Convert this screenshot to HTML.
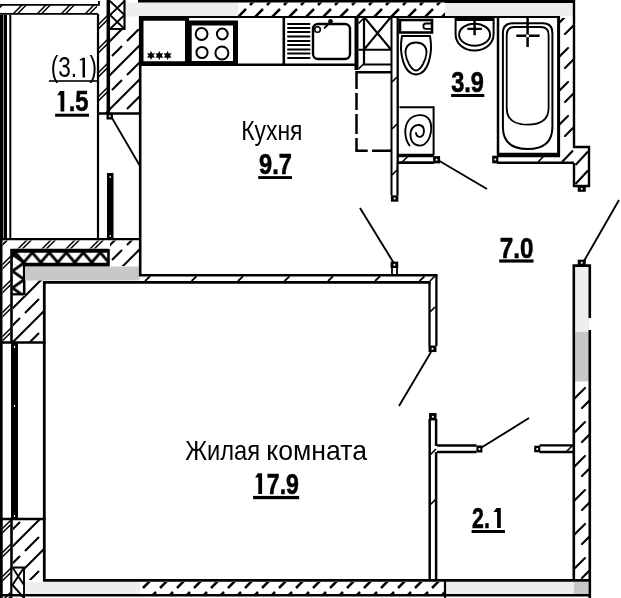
<!DOCTYPE html>
<html><head><meta charset="utf-8">
<style>
html,body{margin:0;padding:0;background:#fff;width:621px;height:598px;overflow:hidden}
svg{display:block}
text{font-family:"Liberation Sans",sans-serif;fill:#000}
</style></head>
<body>
<svg width="621" height="598" viewBox="0 0 621 598">
<defs>
<!-- dashed 45deg hatch for thin top/bottom bands -->
<pattern id="h1" patternUnits="userSpaceOnUse" width="17" height="51" x="0" y="0">
<path d="M-1,18 L8,9 M12,5 L18,-1 M-1,35 L3,31 M7,27 L18,16 M-1,52 L12,39 M16,35 L18,33" stroke="#000" stroke-width="2.5"/>
</pattern>
<!-- long dashed hatch for thick walls -->
<pattern id="h2" patternUnits="userSpaceOnUse" width="34" height="34" x="15" y="0">
<path d="M-2,36 L36,-2 M-2,2 L2,-2 M32,36 L36,32 M-1,18 L5,12 M10,7 L18,-1 M16,35 L24,27 M29,22 L35,16" stroke="#000" stroke-width="2.1"/>
</pattern>
<!-- right wall hatch -->
<pattern id="h3" patternUnits="userSpaceOnUse" width="17" height="34" x="575" y="381">
<path d="M-1,18 L10,7 M7,27 L18,16" stroke="#000" stroke-width="2.1" stroke-linecap="round"/>
</pattern>
<!-- double line hatch -->
<pattern id="hd" patternUnits="userSpaceOnUse" width="24" height="24" x="3" y="0">
<path d="M-2,26 L26,-2 M2.3,26 L26,2.3 M-2,2 L2,-2 M-2,6.3 L6.3,-2 M22,26 L26,22" stroke="#000" stroke-width="1.5"/>
</pattern>
<!-- sparse hatch for thin partition walls -->
<pattern id="hs" patternUnits="userSpaceOnUse" width="40" height="40">
<path d="M-4,44 L44,-4" stroke="#000" stroke-width="1.8"/>
</pattern>
<!-- zigzag insulation -->
<pattern id="zz" patternUnits="userSpaceOnUse" width="17" height="14" x="15.3" y="250.7">
<path d="M-1.53,0 L10.37,14 M18.53,0 L6.63,14" stroke="#000" stroke-width="2.8" fill="none"/>
</pattern>
<pattern id="zv" patternUnits="userSpaceOnUse" width="12" height="16.8" x="12.4" y="254.3">
<path d="M0,0 L12,8.4 L0,16.8" stroke="#000" stroke-width="2.8" fill="none"/>
</pattern>
</defs>
<g fill="none" stroke="#000">
<!-- ===== TOP WALLS ===== -->
<rect x="0" y="5" width="97" height="8.5" fill="url(#hd)" stroke="none"/>
<path d="M0,4.8 H99 V1" stroke-width="1.8"/>
<path d="M0,13.9 H98" stroke-width="1.8"/>
<rect x="126" y="2.5" width="112" height="14" fill="#eeeeee" stroke="none"/>
<rect x="445" y="3" width="130" height="13.5" fill="#eeeeee" stroke="none"/>
<rect x="238" y="2.5" width="207" height="14" fill="url(#h1)" stroke="none"/>
<path d="M138,1.3 H445" stroke-width="2.6"/>
<path d="M445,1.5 H575" stroke-width="3"/>
<path d="M139,17 H560" stroke-width="2.2"/>
<!-- X box top between balcony and kitchen -->
<rect x="99" y="15" width="8" height="98" fill="url(#hd)" stroke="none"/>
<path d="M108.3,0 V113" stroke-width="3.5"/>
<path d="M124.5,0 V29 H110" stroke-width="2.2"/>
<path d="M110,1 L124.5,15 L110,29 M124.5,1 L110,15 L124.5,29" stroke-width="1.8"/>
<!-- ===== BALCONY ===== -->
<path d="M3.5,15 V239" stroke-width="7"/>
<path d="M3.5,15 V239" stroke="#bbb" stroke-width="0.8"/>
<path d="M10.3,15 V239" stroke-width="2"/>
<path d="M98,14 V239" stroke-width="2.2"/>
<!-- thick wall -->
<rect x="110" y="29" width="29" height="84" fill="url(#h2)" stroke="none"/>
<path d="M97,113.5 H140" stroke-width="2.5"/>
<rect x="106.50" y="113.00" width="6.50" height="6.50" fill="#000" stroke="none"/><rect x="108.85" y="115.35" width="1.8" height="1.8" fill="#fff" stroke="none"/>
<path d="M112,118 L140,166" stroke-width="1.8"/>
<rect x="107" y="173" width="6.5" height="65" fill="#000" stroke="none"/>
<path d="M110.2,176 V178 M110.2,235 V237" stroke="#fff" stroke-width="1.2"/>
<!-- balcony bottom -->
<path d="M0,239.1 H140" stroke-width="2.3"/>
<rect x="3" y="240.5" width="105" height="8" fill="url(#hd)" stroke="none"/>
<rect x="110" y="240.5" width="29" height="25.5" fill="url(#h2)" stroke="none"/>
<rect x="12" y="250.7" width="96" height="14" fill="url(#zz)" stroke="none"/>
<rect x="12.4" y="252" width="11.8" height="42" fill="url(#zv)" stroke="none"/>
<path d="M11,250.7 H108.5 M24.2,264.7 H108.5" stroke-width="4"/>
<path d="M108.5,249 V266.5 M24.2,264 V295" stroke-width="2.6"/>
<path d="M11,294.3 H25" stroke-width="2.3"/>
<rect x="25" y="266.5" width="114.5" height="14" fill="#c8c8c8" stroke="none"/>
<!-- ===== LEFT WALL ===== -->
<path d="M1.2,239 V598" stroke-width="2.6"/>
<path d="M11.5,249 V598" stroke-width="2.6"/>
<rect x="2.5" y="241" width="8" height="357" fill="url(#hd)" stroke="none"/>
<rect x="13" y="296" width="30" height="46" fill="url(#h2)" stroke="none"/>
<rect x="25" y="280.5" width="18" height="16" fill="url(#h2)" stroke="none"/>
<rect x="13" y="520" width="30" height="60" fill="url(#h2)" stroke="none"/>
<!-- window -->
<rect x="2.5" y="343" width="41" height="176" fill="#fff" stroke="none"/>
<path d="M0,342.5 H45.5 M0,519 H45.5" stroke-width="2.6"/>
<rect x="11" y="343" width="7" height="176" fill="#000" stroke="none"/>
<path d="M14.5,346 V348 M14.5,405 V407 M14.5,515 V517" stroke="#fff" stroke-width="1.2"/>
<path d="M1.2,341 V598" stroke-width="2.6"/>
<path d="M44.3,281 V581" stroke-width="2.8"/>
<!-- X box bottom-left -->
<rect x="12.5" y="567" width="11.5" height="31" fill="#fff" stroke="none"/>
<path d="M12.5,567.5 H24 V598 M12.5,567.5 L24,585 M24,567.5 L12.5,585 M12.5,585 L24,598" stroke-width="1.9"/>
<!-- ===== BOTTOM WALL ===== -->
<path d="M43,580.4 H589" stroke-width="2.7"/>
<rect x="25" y="582" width="115" height="12.5" fill="#eeeeee" stroke="none"/>
<rect x="140" y="582" width="297" height="12.5" fill="url(#h1)" stroke="none"/>
<rect x="437" y="582" width="7" height="12.5" fill="url(#h1)" stroke="none"/>
<rect x="446" y="582" width="128" height="12.5" fill="#eeeeee" stroke="none"/>
<path d="M445,581 V598" stroke-width="2.2"/>
<rect x="574" y="582" width="14" height="12.5" fill="#c8c8c8" stroke="none"/>
<path d="M0,595.3 H589" stroke-width="2.5"/>
<!-- ===== KITCHEN ===== -->
<path d="M140.2,17 V276" stroke-width="2.6"/>
<path d="M139,275.3 H437.5" stroke-width="2.4"/>
<path d="M145,281 L150,276.3 M191.5,281 L196.5,276.3 M238,281 L243,276.3 M284.5,281 L289.5,276.3 M328,281 L333,276.3 M375,281 L380,276.3 M419.5,281 L424.5,276.3" stroke-width="1.8"/>
<path d="M43,282.3 H430.7" stroke-width="2.8"/>
<!-- counter -->
<rect x="141.5" y="18.75" width="45.5" height="44.5" stroke-width="4"/>
<path d="M139,64.8 H358" stroke-width="2.5"/>
<rect x="189.2" y="23" width="46.3" height="40.5" stroke-width="5"/>
<circle cx="201.6" cy="34" r="5.9" stroke-width="2"/>
<circle cx="222.3" cy="34" r="5.4" stroke-width="2"/>
<circle cx="202" cy="52.5" r="5.6" stroke-width="2"/>
<circle cx="221.9" cy="53" r="6.5" stroke-width="2"/>
<g fill="#000" stroke="none">
<path id="st" d="M151,51 L152.2,53.4 L154.9,53.2 L153.4,55.5 L154.9,57.8 L152.2,57.6 L151,60 L149.8,57.6 L147.1,57.8 L148.6,55.5 L147.1,53.2 L149.8,53.4 Z"/>
<use href="#st" x="8.3"/>
<use href="#st" x="16.6"/>
</g>
<path d="M283.8,17 V65" stroke-width="2.6"/>
<path d="M288,24 H309.5 M288,28 H309.5 M288,32 H309.5 M288,36.5 H309.5 M288,41 H309.5 M288,45 H309.5 M288,49.5 H309.5 M288,53.5 H309.5 M288,58 H309.5" stroke-width="2" stroke-linecap="round"/>
<rect x="313" y="24" width="37" height="35" rx="5" stroke-width="2.4"/>
<circle cx="317.5" cy="29.5" r="2.8" stroke-width="1.6"/>
<path d="M324,28.5 L330,22.5" stroke-width="1.8"/>
<circle cx="330.5" cy="21.3" r="2.3" fill="#000" stroke="none"/>
<path d="M356.5,16 V70" stroke-width="4"/>
<path d="M358.5,23.5 L363.5,18.5 M358.5,69 L363.5,64" stroke-width="1.6"/>
<path d="M364,17 V64.5 H391" stroke-width="2.2"/>
<path d="M358.5,49.7 H391 M364.5,17.5 L390.5,49 M390.5,17.5 L364.5,49" stroke-width="2"/>
<path d="M391.5,17 V195.5" stroke-width="2"/>
<path d="M397.7,17 V163" stroke-width="2.3"/>
<path d="M356.5,72.2 H391.5" stroke-width="2.5"/>
<path d="M356.5,71 V150.7" stroke-width="2.5" stroke-dasharray="18 4 17 4 20 4 30"/>
<path d="M355.3,150.7 H367.7 M372,150.7 H391.5" stroke-width="2.5"/>
<path d="M392,82 L397,77 M392,129 L397,124 M392,175 L397,170" stroke-width="1.6"/>
<rect x="390.90" y="195.30" width="7.40" height="6.40" fill="#000" stroke="none"/><rect x="393.70" y="197.60" width="1.8" height="1.8" fill="#fff" stroke="none"/>
<path d="M397.5,195.5 V163" stroke-width="2.2"/>
<path d="M360,208 L393.5,262.5" stroke-width="1.9"/>
<rect x="390.60" y="261.60" width="7.60" height="6.40" fill="#000" stroke="none"/><rect x="393.50" y="263.90" width="1.8" height="1.8" fill="#fff" stroke="none"/>
<path d="M392,267 V275 M397,267 V275" stroke-width="1.8"/>
<!-- ===== BATHROOM ===== -->
<rect x="400" y="20" width="32" height="12.5" stroke-width="2.6"/>
<path d="M433,23.5 H426 A2.6,2.6 0 0 0 426,28.8 H433" stroke-width="1.8"/>
<path d="M402,36 C399,52 403,74 416,74.5 C429,74 433,52 430,36 Z" stroke-width="2"/>
<path d="M416,42.5 C423,42.5 427,47 426.5,53 C426,60 421,70 416,70.5 C411,70 406,60 405.5,53 C405,47 409,42.5 416,42.5 Z" stroke-width="1.8"/>
<path d="M455.6,18 V34 C455.6,44 464,50.5 474.6,50.5 C485,50.5 493.6,44 493.6,34 V18" stroke-width="2"/>
<path d="M455,19.3 H494" stroke-width="3.6"/>
<ellipse cx="474.6" cy="34.7" rx="15.5" ry="11" stroke-width="2"/>
<path d="M467.3,28.9 H481.8 M474.6,19 V35.2" stroke-width="2.4"/>
<path d="M498,17 V155" stroke-width="2.5"/>
<path d="M558.6,17 V157" stroke-width="3"/>
<path d="M502.9,127 V33 Q502.9,23.3 512.5,23.3 H542.8 Q552.4,23.3 552.4,33 V127 Q552.4,149 527.6,149 Q502.9,149 502.9,127" stroke-width="2"/>
<path d="M506.7,108 V35 Q506.7,27 514.5,27 H540.8 Q548.6,27 548.6,35 V108 Q548.6,124.6 527.6,124.6 Q506.7,124.6 506.7,108" stroke-width="1.8"/>
<path d="M516.3,35.8 H539.6 M527.6,17 V47" stroke-width="2.5"/>
<circle cx="527.6" cy="35.8" r="1.5" fill="#fff" stroke="none"/>
<path d="M497,155 H560" stroke-width="4.4"/>
<rect x="560" y="18" width="13" height="129" fill="url(#h3)" stroke="none"/>
<path d="M575.5,165 L588,151.5 M575.5,184 L588,170.5 M562,162 L573,150.5" stroke-width="2.1"/>
<path d="M574,0 V147 H589 V186 H574 V163" stroke-width="2.4"/>
<rect x="577.70" y="185.70" width="8.10" height="6.10" fill="#000" stroke="none"/><rect x="580.85" y="187.85" width="1.8" height="1.8" fill="#fff" stroke="none"/>
<path d="M497,162.7 H574" stroke-width="2.4"/>
<path d="M538,162 L545,155" stroke-width="1.6"/>
<rect x="492.20" y="155.70" width="6.10" height="7.60" fill="#000" stroke="none"/><rect x="494.35" y="158.60" width="1.8" height="1.8" fill="#fff" stroke="none"/>
<!-- washer -->
<path d="M399.5,107.3 H433.6 V155" stroke-width="2"/>
<path d="M409.5,145.5 C404,138 404,126 409,120 C414,114 425,113 429.5,120 C433,127 431,140 424,144.5 C418,147.5 411,144 410.5,136 C410,129 414,124.5 419.5,125 C424,125.5 425,131 423,135 C421,138 416.5,137.5 416,133" stroke-width="1.9" stroke-linecap="round"/>
<path d="M398,155.6 H434" stroke-width="3.5"/>
<path d="M398,162.7 H434" stroke-width="2.8"/>
<path d="M402,162 L409,155.5" stroke-width="1.6"/>
<rect x="433.10" y="156.10" width="7.00" height="7.30" fill="#000" stroke="none"/><rect x="435.70" y="158.85" width="1.8" height="1.8" fill="#fff" stroke="none"/>
<path d="M439.5,161 L487,189" stroke-width="1.9"/>
<!-- ===== LIVING RIGHT WALL ===== -->
<path d="M436.4,275 V346 M429.5,282 V346" stroke-width="2.3"/>
<path d="M430,281 L435,276 M430,312 L435,307" stroke-width="1.6"/>
<rect x="428.55" y="345.55" width="7.90" height="6.50" fill="#000" stroke="none"/><rect x="431.60" y="347.90" width="1.8" height="1.8" fill="#fff" stroke="none"/>
<path d="M431,352 L399,406" stroke-width="1.9"/>
<!-- closet -->
<path d="M429.7,419 V581 M436.1,452 V581" stroke-width="2.5"/>
<path d="M436.1,419 V446" stroke-width="2.5"/>
<path d="M430,455 L436,449 M430,505 L436,499" stroke-width="1.6"/>
<rect x="429.05" y="413.05" width="7.50" height="7.40" fill="#000" stroke="none"/><rect x="431.90" y="415.85" width="1.8" height="1.8" fill="#fff" stroke="none"/>
<path d="M437,445.5 H476.5 M437,451.9 H476.5" stroke-width="2.5"/>
<rect x="476.40" y="445.50" width="6.00" height="7.00" fill="#000" stroke="none"/><rect x="478.50" y="448.10" width="1.8" height="1.8" fill="#fff" stroke="none"/>
<path d="M481.5,447.5 L529,418" stroke-width="1.9"/>
<path d="M539.5,445.4 H574 M539.5,452 H574" stroke-width="2.4"/>
<path d="M566,452 L573,445" stroke-width="1.6"/>
<rect x="534.20" y="445.70" width="6.10" height="6.60" fill="#000" stroke="none"/><rect x="536.35" y="448.10" width="1.8" height="1.8" fill="#fff" stroke="none"/>
<!-- right wall -->
<rect x="575" y="266" width="14" height="66" fill="#eeeeee" stroke="none"/>
<rect x="575" y="332" width="14" height="49.5" fill="#c8c8c8" stroke="none"/>
<rect x="575" y="381.5" width="14" height="200" fill="url(#h3)" stroke="none"/>
<path d="M573.8,581 V265.6 H589.8 V318 M589.8,330 V598" stroke-width="2.6"/>
<rect x="577.70" y="259.70" width="8.10" height="6.10" fill="#000" stroke="none"/><rect x="580.85" y="261.85" width="1.8" height="1.8" fill="#fff" stroke="none"/>
<path d="M584,261 L619,200" stroke-width="1.9"/>
</g>
<!-- ===== LABELS ===== -->
<g opacity="0.999">
<text transform="matrix(0.2254 0 0 0.2862 50.65 77.29)" font-size="100">(3.&#x2007;)</text>
<path d="M85,77.6 V57.7 H83 L79.7,59.6 L80,60.6 L82.5,59.9 V77.6 Z"/>
<rect x="48.9" y="80.2" width="48.3" height="1.6"/>
<text transform="matrix(0.2385 0 0 0.2914 55.47 111.11)" font-size="100" font-weight="bold" stroke="#000" stroke-width="2">&#x2007;.5</text>
<path d="M64.3,111.6 V91 H60 L57.2,95.2 H60.5 V111.6 Z"/>
<rect x="55.1" y="113.7" width="33.9" height="3"/>
<text transform="matrix(0.2292 0 0 0.2856 241.17 139.60)" font-size="100">Кухня</text>
<text transform="matrix(0.2366 0 0 0.2887 259.05 174.01)" font-size="100" font-weight="bold" stroke="#000" stroke-width="2">9.7</text>
<rect x="258.2" y="176.1" width="33.8" height="2.9"/>
<text transform="matrix(0.2361 0 0 0.3014 451.13 91.90)" font-size="100" font-weight="bold" stroke="#000" stroke-width="2">3.9</text>
<rect x="451.1" y="94" width="33.2" height="3"/>
<text transform="matrix(0.2427 0 0 0.2944 499.83 257.51)" font-size="100" font-weight="bold" stroke="#000" stroke-width="2">7.0</text>
<rect x="499.2" y="259.4" width="34.3" height="3.2"/>
<text transform="matrix(0.2371 0 0 0.2757 185.13 459.52)" font-size="100">Жилая</text>
<text transform="matrix(0.2666 0 0 0.2745 266.23 459.73)" font-size="100">комната</text>
<text transform="matrix(0.2314 0 0 0.2901 253.91 493.51)" font-size="100" font-weight="bold" stroke="#000" stroke-width="2">&#x2007;7.9</text>
<path d="M262.1,494.1 V473.3 H257.8 L255.1,477.6 H258.3 V494.1 Z"/>
<rect x="253.1" y="495.9" width="46.1" height="3.3"/>
<text transform="matrix(0.2128 0 0 0.3000 472.06 528.20)" font-size="100" font-weight="bold" stroke="#000" stroke-width="2">2.&#x2007;</text>
<path d="M500.8,528.1 V508 H496.6 L493.4,512 H497.1 V528.1 Z"/>
<rect x="471.6" y="530" width="33.4" height="3"/>
</g>
</svg>
</body></html>
